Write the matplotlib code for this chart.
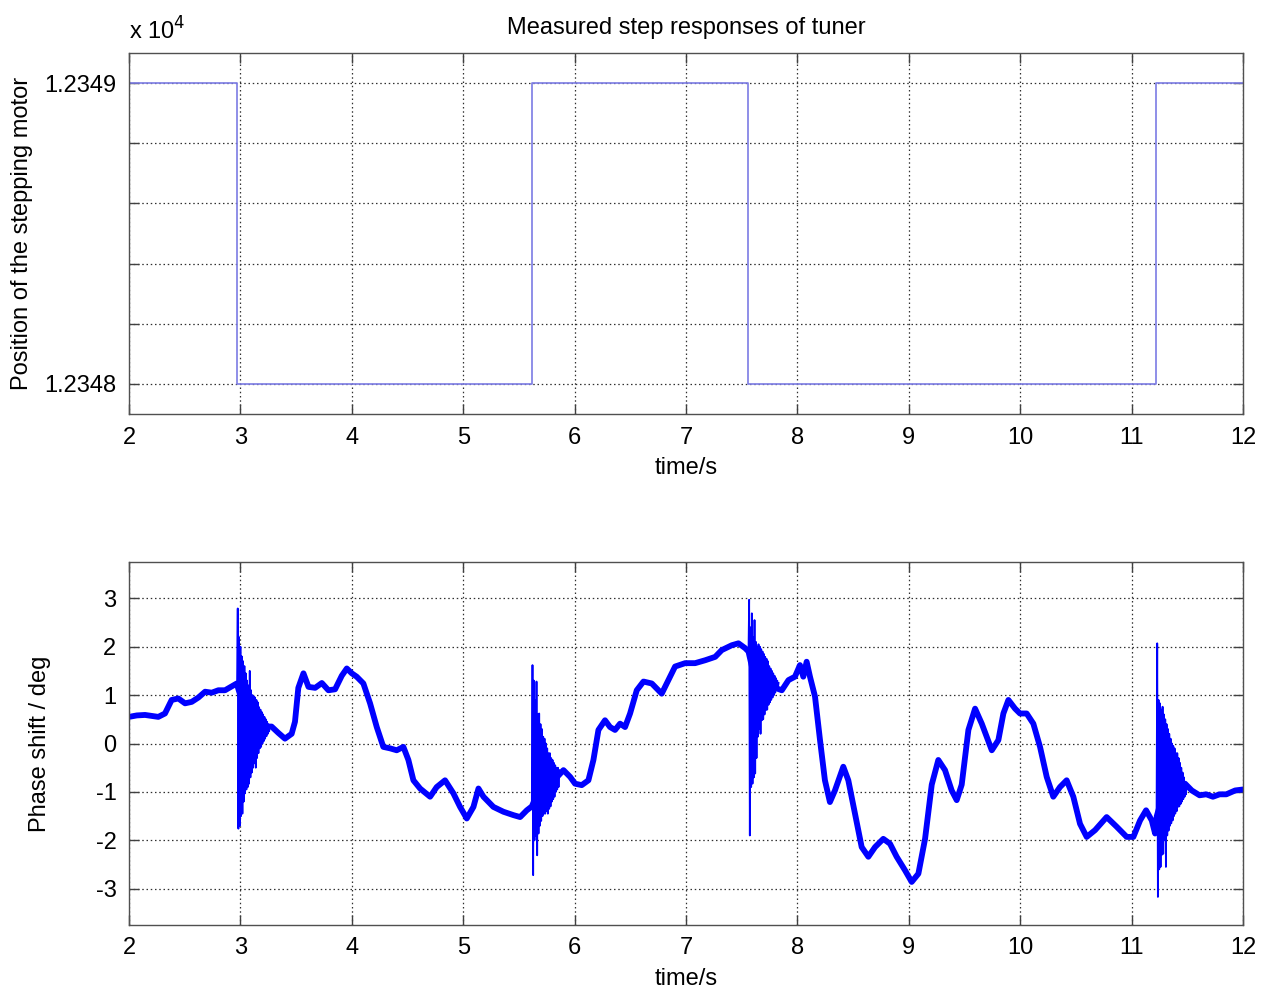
import numpy as np
import matplotlib
matplotlib.use("Agg")
import matplotlib.pyplot as plt

plt.rcParams['font.family'] = ['Liberation Sans', 'DejaVu Sans']

# ---- stepping motor position (steps) ----
step_times = [2.0, 2.966, 5.618, 7.556, 11.22, 12.0]
step_pos = [12349, 12348, 12349, 12348, 12349, 12349]

# ---- phase shift: slow trace (time s, deg) ----
phase_t = [2.0, 2.07, 2.144, 2.204, 2.263, 2.323, 2.383, 2.443, 2.503, 2.563,
           2.623, 2.683, 2.743, 2.802, 2.862, 2.922, 2.967,
           3.05, 3.15, 3.22, 3.28, 3.34, 3.40, 3.46, 3.49, 3.52, 3.566, 3.611,
           3.671, 3.731, 3.79, 3.85, 3.91, 3.955, 4.0,
           4.044, 4.104, 4.164, 4.224, 4.283, 4.343, 4.403, 4.463, 4.508, 4.553,
           4.613, 4.703, 4.762, 4.837, 4.912, 4.972, 5.032, 5.092, 5.137, 5.182,
           5.271, 5.361, 5.451, 5.511, 5.571, 5.616,
           5.70, 5.80, 5.90, 5.96, 6.004, 6.064, 6.124, 6.169, 6.214, 6.273,
           6.318, 6.363, 6.408, 6.453, 6.498, 6.558, 6.618, 6.693, 6.782, 6.842,
           6.902, 6.992, 7.082, 7.172, 7.262, 7.321, 7.411, 7.471, 7.531, 7.561,
           7.62, 7.70, 7.80, 7.86, 7.92, 7.978,
           8.023, 8.053, 8.083, 8.113, 8.158, 8.203, 8.247, 8.292, 8.337, 8.412,
           8.457, 8.517, 8.577, 8.637, 8.697, 8.771, 8.831, 8.891, 8.966, 9.026,
           9.086, 9.146, 9.206, 9.265, 9.325, 9.385, 9.43, 9.475, 9.535, 9.595,
           9.655, 9.745, 9.804, 9.849, 9.894, 9.954, 9.998,
           10.058, 10.118, 10.178, 10.238, 10.297, 10.357, 10.417, 10.477, 10.537,
           10.597, 10.672, 10.776, 10.866, 10.956, 11.016, 11.076, 11.13, 11.181,
           11.211, 11.226,
           11.30, 11.36, 11.42, 11.48, 11.54, 11.61, 11.67, 11.73, 11.79, 11.85,
           11.93, 12.0]
phase_deg = [0.55, 0.58, 0.59, 0.57, 0.55, 0.62, 0.90, 0.93, 0.83, 0.86,
             0.95, 1.07, 1.05, 1.10, 1.10, 1.18, 1.24,
             0.60, 0.35, 0.35, 0.35, 0.22, 0.10, 0.20, 0.45, 1.15, 1.45, 1.17,
             1.15, 1.25, 1.10, 1.12, 1.40, 1.55, 1.45,
             1.38, 1.24, 0.83, 0.34, -0.07, -0.10, -0.14, -0.07, -0.34, -0.76,
             -0.93, -1.10, -0.90, -0.76, -1.03, -1.31, -1.55, -1.31, -0.93, -1.10,
             -1.31, -1.41, -1.48, -1.52, -1.38, -1.30,
             -0.85, -0.80, -0.55, -0.69, -0.83, -0.86, -0.76, -0.34, 0.28, 0.48,
             0.34, 0.28, 0.41, 0.34, 0.62, 1.10, 1.28, 1.24, 1.03, 1.31,
             1.59, 1.66, 1.66, 1.72, 1.79, 1.93, 2.03, 2.07, 1.97, 1.90,
             1.30, 1.20, 1.15, 1.10, 1.31, 1.38,
             1.62, 1.38, 1.69, 1.38, 0.97, 0.07, -0.76, -1.21, -0.97, -0.48,
             -0.76, -1.45, -2.14, -2.34, -2.14, -1.97, -2.07, -2.34, -2.62, -2.86,
             -2.69, -1.97, -0.85, -0.34, -0.55, -0.97, -1.17, -0.85, 0.28, 0.72,
             0.41, -0.14, 0.07, 0.62, 0.90, 0.72, 0.62,
             0.62, 0.41, -0.07, -0.69, -1.10, -0.90, -0.76, -1.10, -1.66,
             -1.93, -1.79, -1.52, -1.72, -1.93, -1.93, -1.59, -1.38, -1.59,
             -1.86, -1.50,
             -0.90, -0.85, -0.90, -0.83, -0.97, -1.07, -1.05, -1.10, -1.05, -1.05,
             -0.97, -0.95]

# ---- ringing after each motor step (sampled every 6 ms, deg) ----
burst_dt = 0.006
burst1_t0 = 2.970
burst1 = [1.2, 2.79, -1.76, 2.2, -1.70, 2.0, -1.5, 1.8, -1.45, 1.7, -1.2, 1.6,
          -1.03, 1.45, -0.95, 1.3, -0.9, 1.2, -0.83, 1.5, -0.7, 1.1, -0.6, 1.0,
          -0.5, 0.97, -0.41, 0.95, -0.5, 0.9, -0.3, 0.85, -0.2, 0.75, -0.1, 0.7,
          -0.07, 0.65, 0.0, 0.6, 0.05, 0.55, 0.1, 0.5, 0.15, 0.45, 0.2, 0.4, 0.25,
          0.35]
burst2_t0 = 5.616
burst2 = [-1.3, 1.62, -2.72, 1.3, -2.0, 0.9, -1.9, 1.28, -2.31, 0.6, -1.86, 0.62,
          -1.7, 0.4, -1.6, 0.3, -1.5, 0.14, -1.45, 0.1, -1.45, 0.0, -1.4, -0.1,
          -1.45, -0.2, -1.35, -0.2, -1.3, -0.3, -1.2, -0.34, -1.15, -0.4, -1.1,
          -0.45, -1.0, -0.5, -0.95, -0.5, -0.9, -0.55]
burst3_t0 = 7.561
burst3 = [1.9, 2.97, -1.9, 2.4, -0.9, 2.69, -0.83, 2.2, -0.7, 2.55, -0.62, 2.1,
          -0.3, 2.0, 0.14, 2.05, 0.3, 2.0, 0.2, 1.95, 0.48, 1.9, 0.5, 1.85, 0.6,
          1.79, 0.69, 1.75, 0.7, 1.7, 0.8, 1.6, 0.85, 1.55, 0.9, 1.5, 0.95, 1.45,
          1.0, 1.4, 1.05, 1.35, 1.1, 1.3, 1.15, 1.25]
burst4_t0 = 11.224
burst4 = [-1.5, 2.07, -3.17, 0.9, -2.6, 0.83, -2.55, 0.7, -2.3, 0.76, -2.28, 0.6,
          -2.0, 0.5, -2.55, 0.4, -1.9, 0.3, -1.8, 0.2, -1.7, 0.1, -1.65, 0.0,
          -1.59, -0.05, -1.5, -0.1, -1.45, -0.2, -1.4, -0.2, -1.31, -0.3, -1.3,
          -0.4, -1.25, -0.5, -1.2, -0.6, -1.15, -0.7, -1.1, -0.8, -1.05, -0.85]

W, H = 1265, 989
fig = plt.figure(figsize=(W / 100, H / 100), dpi=100)

def axes_px(left, top, right, bottom):
    return fig.add_axes([left / W, 1 - bottom / H, (right - left) / W, (bottom - top) / H])

ax1 = axes_px(129, 53, 1243, 414)
ax2 = axes_px(129, 562, 1243, 925)

FS = 17
for ax in (ax1, ax2):
    ax.set_xlim(2, 12)
    ax.set_xticks(range(2, 13))
    ax.grid(True, linestyle=(0, (1.2, 2.2)), color='#303030', linewidth=0.9)
    ax.tick_params(direction='in', length=7, width=1.0, top=True, right=True,
                   labelsize=FS, pad=9, color='#404040')
    for s in ax.spines.values():
        s.set_color('#505050')
        s.set_linewidth(1.0)
    ax.set_xlabel('time/s', fontsize=FS, labelpad=6)

# top: motor position
ax1.plot(step_times, step_pos, drawstyle='steps-post', color='#7c7ce4', linewidth=1.2)
ax1.set_ylim(12347.9, 12349.1)
yt = [12348.0, 12348.2, 12348.4, 12348.6, 12348.8, 12349.0]
ax1.set_yticks(yt)
ax1.set_yticklabels(['1.2348', '', '', '', '', '1.2349'])
ax1.set_ylabel('Position of the stepping motor', fontsize=FS, labelpad=8)
ax1.set_title('Measured step responses of tuner', fontsize=FS, pad=14)
fig.text(129 / W, 1 - 45 / H, 'x 10$^{4}$', fontsize=FS, ha='left', va='bottom')

# bottom: phase shift
ax2.plot(phase_t, phase_deg, color='#0000ff', linewidth=4.2,
         solid_joinstyle='round', solid_capstyle='round')
for t0, vals in ((burst1_t0, burst1), (burst2_t0, burst2),
                 (burst3_t0, burst3), (burst4_t0, burst4)):
    tb = t0 + burst_dt * np.arange(len(vals))
    ax2.plot(tb, vals, color='#0000ff', linewidth=1.3)
ax2.set_ylim(-3.75, 3.75)
ax2.set_yticks([-3, -2, -1, 0, 1, 2, 3])
ax2.set_yticklabels(['-3', '-2', '-1', '0', '1', '2', '3'])
ax2.set_ylabel('Phase shift / deg', fontsize=FS, labelpad=32)

fig.savefig('out.png', dpi=100)
